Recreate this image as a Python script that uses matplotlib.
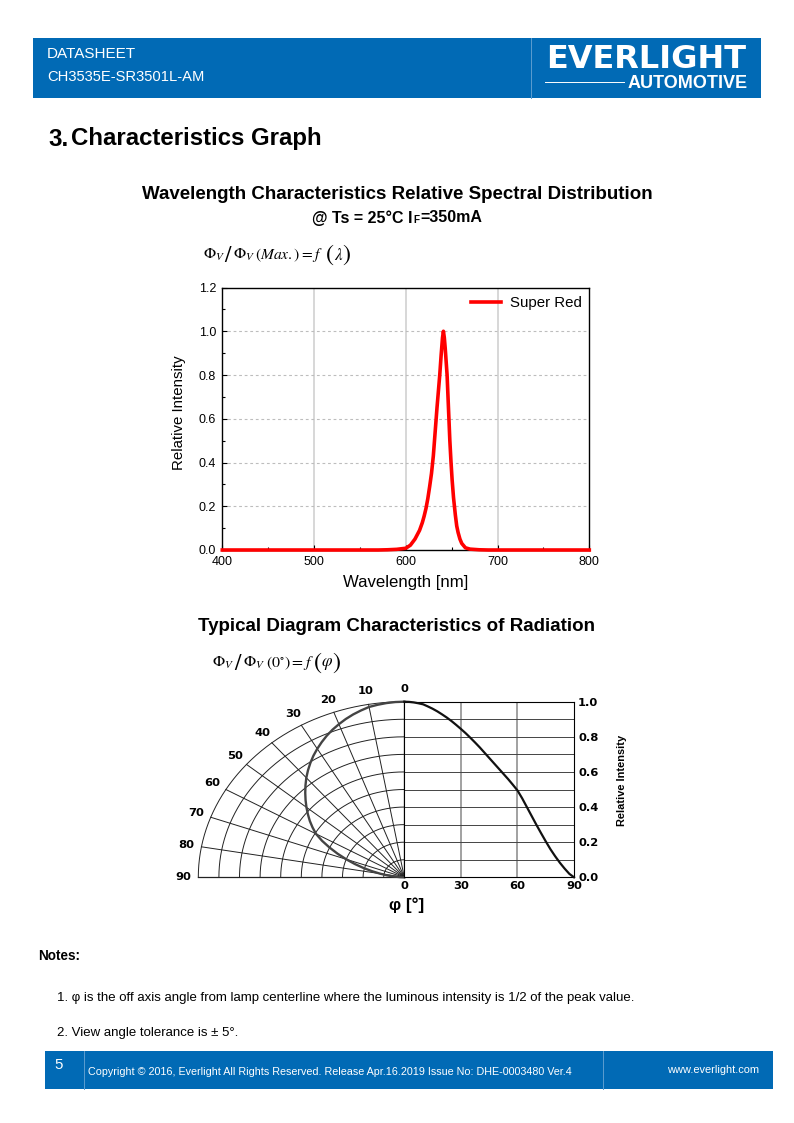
import numpy as np
import matplotlib
matplotlib.use("Agg")
import matplotlib.pyplot as plt
from matplotlib.patches import Rectangle

plt.rcParams['font.family'] = ['Liberation Sans', 'DejaVu Sans']

# ---- data ----
wavelength = [400, 450, 500, 550, 570, 580, 590, 600, 605, 610, 615, 618, 620, 622, 624, 626, 628, 630,
              632, 634, 636, 637, 638.5, 640, 641, 642, 643, 645, 646, 647, 648, 649.3, 650.5, 652,
              653, 654, 655.5, 657, 659, 661, 665, 670, 680, 690, 700, 750, 800]
intensity = [0, 0, 0, 0, 0, 0.001, 0.003, 0.008, 0.022, 0.05, 0.09, 0.125, 0.155, 0.19, 0.235, 0.29,
             0.35, 0.43, 0.54, 0.65, 0.75, 0.8, 0.89, 0.97, 1.0, 0.97, 0.92, 0.8, 0.7, 0.6, 0.5, 0.4,
             0.32, 0.24, 0.2, 0.16, 0.11, 0.08, 0.05, 0.03, 0.01, 0.004, 0.001, 0, 0, 0, 0]
series_name = "Super Red"
angles = [0, 2.5, 5, 7.5, 10, 12.5, 15, 17.5, 20, 22.5, 25, 27.5, 30, 32.5, 35, 37.5, 40, 42.5, 45,
          47.5, 50, 52.5, 55, 57.5, 60, 62.5, 65, 67.5, 70, 72.5, 75, 77.5, 80, 82.5, 85, 87.5, 90]
rel_rad = [1.0, 0.999, 0.996, 0.991, 0.985, 0.973, 0.96, 0.945, 0.928, 0.91, 0.89, 0.868, 0.845,
           0.821, 0.795, 0.768, 0.74, 0.71, 0.68, 0.65, 0.62, 0.59, 0.56, 0.528, 0.495, 0.45,
           0.40, 0.35, 0.30, 0.252, 0.205, 0.16, 0.12, 0.083, 0.05, 0.02, 0.0]
polar_labels = [0, 10, 20, 30, 40, 50, 60, 70, 80, 90]
rad_ticks = [0.0, 0.2, 0.4, 0.6, 0.8, 1.0]
ang_ticks = [0, 30, 60, 90]

BLUE = '#016ab5'
W, H = 794, 1123
fig = plt.figure(figsize=(W / 100, H / 100), dpi=100, facecolor='white')


def px(size):
    return size * 0.72


def ax_at(l, t, r, b, **kw):
    return fig.add_axes([l / W, 1 - b / H, (r - l) / W, (b - t) / H], **kw)


# ---- page furniture ----
page = ax_at(0, 0, W, H)
page.set_xlim(0, W)
page.set_ylim(H, 0)
page.axis('off')
page.add_patch(Rectangle((33, 38), 728, 60, fc=BLUE, ec='none'))
page.add_patch(Rectangle((45, 1051), 728, 38, fc=BLUE, ec='none'))
for x, y0, y1 in [(531, 38, 98), (84, 1051, 1089), (603, 1051, 1089)]:
    page.plot([x, x], [y0, y1], color='#5c9dcf', lw=0.7)
page.plot([545, 624], [82, 82], color='white', lw=0.7)


def T(x, y, s, size, weight='normal', color='black', ha='left', **kw):
    kw.setdefault('va', 'center')
    return page.text(x, y, s, fontsize=px(size), fontweight=weight, color=color, ha=ha, **kw)


def M(x, y, s, size=16, **kw):
    return T(x, y, s, size, math_fontfamily='stix', va='center_baseline', **kw)


T(47, 54, 'DATASHEET', 15.3, color='white')
T(47, 77, 'CH3535E-SR3501L-AM', 14.8, color='white')
T(646.5, 68.5, 'EVERLIGHT', 32, weight='bold', color='white', family='DejaVu Sans', ha='center', va='baseline')
T(748, 83.5, 'AUTOMOTIVE', 18, weight='bold', color='white', ha='right')
T(48, 139, '3.', 24, weight='bold')
T(71, 139, 'Characteristics Graph', 24, weight='bold')
T(397, 194.5, 'Wavelength Characteristics Relative Spectral Distribution', 18.75, weight='bold', ha='center')
T(413, 218, '@ Ts = 25°C I', 16, weight='bold', ha='right')
T(413.5, 220, 'F', 10, weight='bold')
T(420, 218, '=350mA', 16, weight='bold')

# formula 1
M(203, 253, r'$\Phi_{V}$')
M(228.5, 253, r'$/$', size=23, ha='center')
M(233, 253, r'$\Phi_{V}$')
M(255, 253, r'$(Max.)=f$', size=15.5)
M(330, 252, r'$($', size=24, ha='center')
M(334, 253, r'$\lambda$', size=17)
M(346.5, 252, r'$)$', size=24, ha='center')

T(397, 626.5, 'Typical Diagram Characteristics of Radiation', 18.75, weight='bold', ha='center')

# formula 2
M(212, 661, r'$\Phi_{V}$')
M(238, 661, r'$/$', size=23, ha='center')
M(243, 661, r'$\Phi_{V}$')
M(266, 661, r'$(0^{\circ})=f$')
M(317.5, 660, r'$($', size=24, ha='center')
M(321, 661, r'$\varphi$', size=17)
M(336, 660, r'$)$', size=24, ha='center')

T(38, 956, 'Notes:', 13.5, weight='bold')
T(57, 998, '1. φ is the off axis angle from lamp centerline where the luminous intensity is 1/2 of the peak value.', 13.2)
T(57, 1033, '2. View angle tolerance is ± 5°.', 13.2)
T(54, 1065, '5', 15, color='white')
T(88, 1072, 'Copyright © 2016, Everlight All Rights Reserved. Release Apr.16.2019 Issue No: DHE-0003480 Ver.4', 10.75, color='white')
T(759, 1070, 'www.everlight.com', 11, color='white', ha='right')

# ---- spectrum ----
ax = ax_at(222.3, 287.5, 589.3, 550)
ax.plot(wavelength, intensity, color='#ff0000', lw=2.6, label=series_name, solid_joinstyle='round', zorder=3, clip_on=False)
ax.set_xlim(400, 800)
ax.set_ylim(0, 1.2)
ax.set_xticks([400, 500, 600, 700, 800])
ax.set_xticks([450, 550, 650, 750], minor=True)
ax.set_yticks([0, 0.2, 0.4, 0.6, 0.8, 1.0, 1.2])
ax.set_yticks([0.1, 0.3, 0.5, 0.7, 0.9, 1.1], minor=True)
ax.set_yticklabels(['0.0', '0.2', '0.4', '0.6', '0.8', '1.0', '1.2'])
ax.tick_params(which='major', direction='in', length=3.5, width=0.8, labelsize=px(12.5), pad=4.5)
ax.tick_params(which='minor', direction='in', length=2.5, width=0.8)
for v in [500, 600, 700]:
    ax.axvline(v, color='#d4d4d4', lw=1.3, zorder=1)
for v in [0.2, 0.4, 0.6, 0.8, 1.0]:
    ax.axhline(v, color='#bdbdbd', lw=0.8, ls=(0, (2.5, 2.5)), zorder=1)
ax.set_xlabel('Wavelength [nm]', fontsize=px(16.8))
ax.xaxis.set_label_coords(0.5, -0.0965)
ax.set_ylabel('Relative Intensity', fontsize=px(15))
ax.yaxis.set_label_coords(-0.10, 0.525)
for s in ax.spines.values():
    s.set_linewidth(1.0)
ax.legend(loc='upper right', frameon=False, fontsize=px(15), handlelength=2.0, handletextpad=0.6,
          borderaxespad=0.25, borderpad=0.2, bbox_to_anchor=(1 - 1 / 367, 1 - 2 / 262.5))

# ---- radiation diagram: polar half ----
theta = np.radians(np.linspace(0, 90, 181))
axp = ax_at(198.3, 701.7, 404.3, 877.3)
axp.set_xlim(-1, 0)
axp.set_ylim(0, 1)
axp.axis('off')
for r in np.arange(0.1, 1.01, 0.1):
    axp.plot(-r * np.sin(theta), r * np.cos(theta), color='#222222', lw=0.7, clip_on=False)
for a in polar_labels:
    t = np.radians(a)
    axp.plot([0, -np.sin(t)], [0, np.cos(t)], color='#222222', lw=0.9 if a in (0, 90) else 0.7, clip_on=False)
    axp.text(-1.075 * np.sin(t), 1.075 * np.cos(t), str(a), fontsize=px(11.5), fontweight='bold',
             family='DejaVu Sans', ha='center', va='center')
ang_rad = np.radians(angles)
axp.plot(-np.array(rel_rad) * np.sin(ang_rad), np.array(rel_rad) * np.cos(ang_rad),
         color='#444444', lw=1.7, clip_on=False, zorder=3)

# ---- radiation diagram: rectangular half ----
axr = ax_at(404.3, 701.7, 574, 877.3)
axr.plot(angles, rel_rad, color='#111111', lw=1.6, clip_on=False, zorder=3)
axr.set_xlim(0, 90)
axr.set_ylim(0, 1)
axr.set_xticks(ang_ticks)
axr.set_yticks(rad_ticks)
axr.yaxis.tick_right()
axr.tick_params(length=0, labelsize=px(11.5), pad=3, labelfontfamily='DejaVu Sans')
for lab in axr.get_xticklabels() + axr.get_yticklabels():
    lab.set_fontweight('bold')
for v in [30, 60]:
    axr.axvline(v, color='#888888', lw=1.1, zorder=1)
for v in np.arange(0.1, 1.0, 0.1):
    axr.axhline(v, color='#444444', lw=0.7, zorder=1)
for side in ['top', 'bottom', 'left', 'right']:
    axr.spines[side].set_linewidth(0.8)
axr.set_xlabel('φ [°]', fontsize=px(17), fontweight='bold')
axr.xaxis.set_label_coords(0.015, -0.115)
axr.text(1.285, 0.554, 'Relative Intensity', rotation=90, fontsize=px(11), fontweight='bold',
         ha='center', va='center', transform=axr.transAxes)

fig.savefig('out.png', dpi=100, facecolor='white')
